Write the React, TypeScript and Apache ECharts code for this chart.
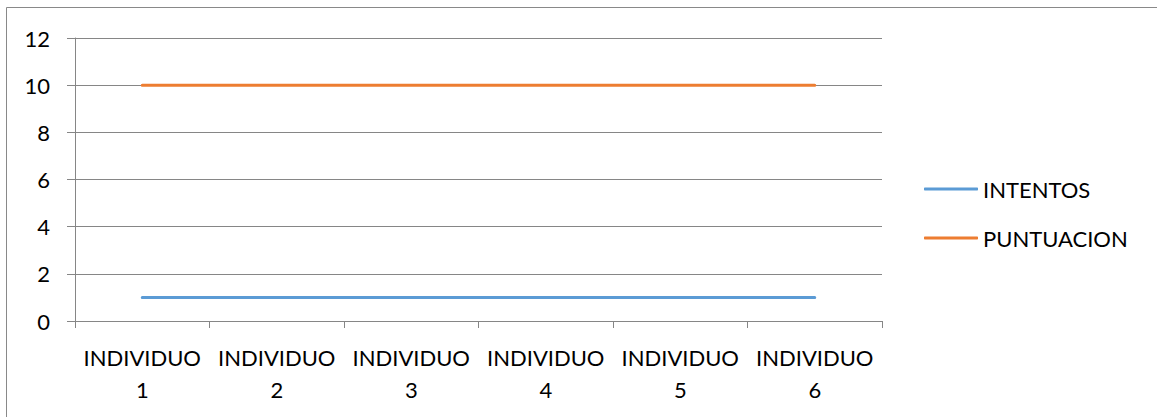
import React, { useEffect, useRef } from "react";
import * as echarts from "echarts";

const categories = [
  "INDIVIDUO\n1",
  "INDIVIDUO\n2",
  "INDIVIDUO\n3",
  "INDIVIDUO\n4",
  "INDIVIDUO\n5",
  "INDIVIDUO\n6",
];
const intentos = [1, 1, 1, 1, 1, 1];
const puntuacion = [10, 10, 10, 10, 10, 10];

const FONT = "Lato";
const GRID_GRAY = "#868686";

export default function App() {
  const ref = useRef<HTMLDivElement>(null);

  useEffect(() => {
    if (!ref.current) return;
    const chart = echarts.init(ref.current, undefined, { renderer: "svg" });
    chart.setOption({
      animation: false,
      backgroundColor: "#ffffff",
      textStyle: { fontFamily: FONT },
      grid: { left: 75, right: 275, top: 38, bottom: 96 },
      graphic: [
        {
          type: "rect",
          shape: { x: 6.5, y: 7.5, width: 1300, height: 600 },
          style: { fill: "none", stroke: "#898989", lineWidth: 1 },
          silent: true,
        },
      ],
      legend: {
        orient: "vertical",
        left: 924,
        top: 178,
        padding: 0,
        icon: "roundRect",
        itemWidth: 54,
        itemHeight: 3,
        itemGap: 27,
        textStyle: {
          fontFamily: FONT,
          fontSize: 22,
          color: "#000",
          lineHeight: 22,
        },
        data: ["INTENTOS", "PUNTUACION"],
      },
      xAxis: {
        type: "category",
        data: categories,
        boundaryGap: true,
        axisLine: { show: true, lineStyle: { color: GRID_GRAY, width: 1 } },
        axisTick: { show: true, length: 7, lineStyle: { color: GRID_GRAY } },
        axisLabel: {
          interval: 0,
          margin: 20,
          fontFamily: FONT,
          fontSize: 22,
          lineHeight: 32,
          color: "#000",
        },
        splitLine: { show: false },
      },
      yAxis: {
        type: "value",
        min: 0,
        max: 12,
        interval: 2,
        axisLine: { show: true, lineStyle: { color: GRID_GRAY, width: 1 } },
        axisTick: { show: true, length: 8, lineStyle: { color: GRID_GRAY } },
        axisLabel: {
          margin: 25,
          fontFamily: FONT,
          fontSize: 22,
          color: "#000",
        },
        splitLine: { show: true, lineStyle: { color: GRID_GRAY, width: 1 } },
      },
      series: [
        {
          name: "INTENTOS",
          type: "line",
          data: intentos,
          symbol: "none",
          color: "#5B9BD5",
          lineStyle: { width: 3, cap: "round" },
        },
        {
          name: "PUNTUACION",
          type: "line",
          data: puntuacion,
          symbol: "none",
          color: "#ED7D31",
          lineStyle: { width: 3, cap: "round" },
        },
      ],
    });
    return () => chart.dispose();
  }, []);

  return (
    <div
      style={{
        position: "fixed",
        left: 0,
        top: 0,
        width: 1157,
        height: 417,
        overflow: "hidden",
        background: "#fff",
      }}
    >
      <div ref={ref} style={{ width: 1157, height: 417 }} />
    </div>
  );
}
